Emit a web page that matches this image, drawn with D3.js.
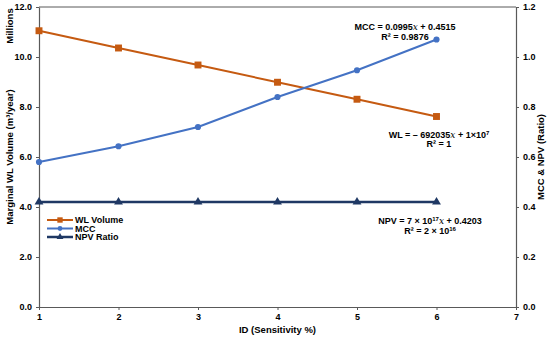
<!DOCTYPE html>
<html>
<head>
<meta charset="utf-8">
<script src="https://cdn.jsdelivr.net/npm/d3@7"></script>
<style>
  body { margin: 0; background: #fff; }
  text { font-family: "Liberation Sans", Arial, sans-serif; font-weight: bold; fill: #000; }
</style>
</head>
<body>
<div id="chart"></div>
<script>
// data
var ids = [1, 2, 3, 4, 5, 6];
var wlVolume = [11.05, 10.36, 9.68, 8.99, 8.31, 7.62];   // millions, left axis
var mccValues = [0.580, 0.643, 0.720, 0.840, 0.947, 1.070]; // right axis
var npvValues = [0.420, 0.420, 0.420, 0.420, 0.420, 0.420]; // right axis
var xTicks = [1, 2, 3, 4, 5, 6, 7];
var leftTicks = [0, 2, 4, 6, 8, 10, 12];
var rightTicks = [0, 0.2, 0.4, 0.6, 0.8, 1.0, 1.2];

var width = 550, height = 338,
    margin = { top: 7, right: 34, bottom: 31, left: 39 };

var svg = d3.select("#chart").append("svg")
    .attr("width", width).attr("height", height);

var x = d3.scaleLinear().domain([1, 7]).range([margin.left, width - margin.right]);
var yL = d3.scaleLinear().domain([0, 12]).range([height - margin.bottom, margin.top]);
var yR = d3.scaleLinear().domain([0, 1.2]).range([height - margin.bottom, margin.top]);

// top border of the plot area
svg.append("line")
    .attr("x1", x(1)).attr("x2", x(7))
    .attr("y1", margin.top).attr("y2", margin.top)
    .attr("stroke", "#595959").attr("stroke-width", 1);

function styleAxis(g) {
    g.selectAll("path").attr("stroke", "#595959").attr("stroke-width", 1.2);
    g.selectAll("line").attr("stroke", "#595959");
    g.selectAll("text").style("font-size", "9px").style("font-family", "Liberation Sans, Arial, sans-serif").style("font-weight", "bold");
}

svg.append("g")
    .attr("transform", "translate(0," + (height - margin.bottom) + ")")
    .call(d3.axisBottom(x).tickValues(xTicks).tickFormat(d3.format("d")).tickSizeInner(3).tickSizeOuter(0).tickPadding(4))
    .call(styleAxis);

svg.append("g")
    .attr("transform", "translate(" + margin.left + ",0)")
    .call(d3.axisLeft(yL).tickValues(leftTicks).tickFormat(d3.format(".1f")).tickSizeInner(3).tickSizeOuter(0).tickPadding(4))
    .call(styleAxis);

svg.append("g")
    .attr("transform", "translate(" + (width - margin.right) + ",0)")
    .call(d3.axisRight(yR).tickValues(rightTicks).tickFormat(d3.format(".1f")).tickSizeInner(3).tickSizeOuter(0).tickPadding(4))
    .call(styleAxis);

// axis titles
svg.append("text")
    .attr("transform", "translate(13," + ((margin.top + height - margin.bottom) / 2) + ") rotate(-90)")
    .attr("text-anchor", "middle").style("font-size", "9.5px")
    .text("Marginal WL Volume (m³/year)");
svg.append("text")
    .attr("transform", "translate(13,26) rotate(-90)")
    .attr("text-anchor", "middle").style("font-size", "9.5px")
    .text("Millions");
svg.append("text")
    .attr("transform", "translate(544," + ((margin.top + height - margin.bottom) / 2) + ") rotate(-90)")
    .attr("text-anchor", "middle").style("font-size", "9.5px")
    .text("MCC & NPV (Ratio)");
svg.append("text")
    .attr("x", (x(1) + x(7)) / 2).attr("y", 333)
    .attr("text-anchor", "middle").style("font-size", "9.5px")
    .text("ID (Sensitivity %)");

var series = [
    { name: "WL Volume", values: wlVolume, y: yL, color: "#C55A11", width: 2, symbol: d3.symbolSquare, size: 48 },
    { name: "MCC", values: mccValues, y: yR, color: "#4472C4", width: 2, symbol: d3.symbolCircle, size: 30 },
    { name: "NPV Ratio", values: npvValues, y: yR, color: "#1F3864", width: 2.5, symbol: d3.symbolTriangle, size: 34 }
];

series.forEach(function (s) {
    var pts = ids.map(function (id, i) { return [id, s.values[i]]; });
    var line = d3.line()
        .x(function (d) { return x(d[0]); })
        .y(function (d) { return s.y(d[1]); });
    svg.append("path")
        .datum(pts)
        .attr("fill", "none")
        .attr("stroke", s.color)
        .attr("stroke-width", s.width)
        .attr("d", line);
    svg.selectAll(null)
        .data(pts)
        .enter().append("path")
        .attr("transform", function (d) { return "translate(" + x(d[0]) + "," + s.y(d[1]) + ")"; })
        .attr("d", d3.symbol().type(s.symbol).size(s.size))
        .attr("fill", s.color);
});

// legend
var legend = svg.append("g").attr("transform", "translate(47,220)");
series.forEach(function (s, i) {
    var g = legend.append("g").attr("transform", "translate(0," + (i * 8.5) + ")");
    g.append("line").attr("x1", 0).attr("x2", 26).attr("stroke", s.color).attr("stroke-width", s.width);
    g.append("path").attr("transform", "translate(13,0)")
        .attr("d", d3.symbol().type(s.symbol).size(s.size * 0.6)).attr("fill", s.color);
    g.append("text").attr("x", 28).attr("dy", "0.35em").style("font-size", "9px").text(s.name);
});

// trendline equations
function equation(cx, cy, parts) {
    var t = svg.append("text").attr("x", cx).attr("y", cy)
        .attr("text-anchor", "middle").style("font-size", "9px");
    parts.forEach(function (p) {
        var ts = t.append("tspan").text(p.t);
        if (p.i) ts.style("font-family", "DejaVu Serif, serif").style("font-style", "italic").style("font-weight", "normal");
        if (p.sup) ts.attr("baseline-shift", "super").style("font-size", "6px");
    });
}
equation(405, 30, [{ t: "MCC = 0.0995" }, { t: "x", i: true }, { t: " + 0.4515" }]);
equation(405, 40, [{ t: "R² = 0.9876" }]);
equation(439, 138, [{ t: "WL = – 692035" }, { t: "x", i: true }, { t: " + 1×10" }, { t: "7", sup: true }]);
equation(439, 147, [{ t: "R² = 1" }]);
equation(430, 224, [{ t: "NPV = 7 × 10" }, { t: "17", sup: true }, { t: "x", i: true }, { t: " + 0.4203" }]);
equation(430, 234, [{ t: "R² = 2 × 10" }, { t: "16", sup: true }]);
</script>
</body>
</html>
